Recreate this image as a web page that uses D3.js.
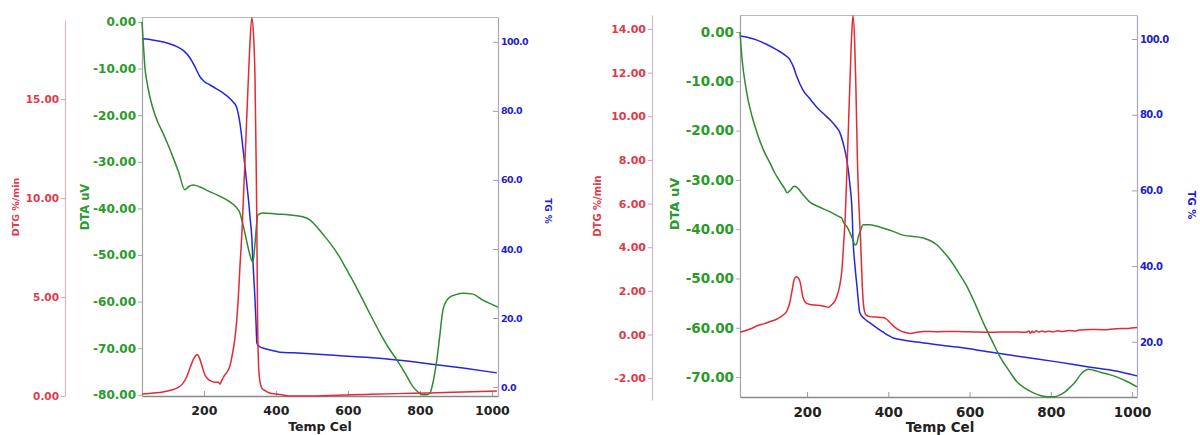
<!DOCTYPE html>
<html><head><meta charset="utf-8">
<script src="https://cdn.jsdelivr.net/npm/d3@7"></script>
<style>
body{margin:0;background:#fff;}
svg{display:block;}
text{font-family:"DejaVu Sans",sans-serif;}
</style>
</head><body>
<svg id="c" width="1200" height="435"></svg>
<script>
// ---------- tick labels ----------
const xTicks = [200, 400, 600, 800, 1000];
const leftDtaTicks = [0, -10, -20, -30, -40, -50, -60, -70, -80];
const leftTgTicks = [0, 20, 40, 60, 80, 100];
const leftDtgTicks = [0, 5, 10, 15];
const rightDtaTicks = [0, -10, -20, -30, -40, -50, -60, -70];
const rightTgTicks = [20, 40, 60, 80, 100];
const rightDtgTicks = [-2, 0, 2, 4, 6, 8, 10, 12, 14];

// ---------- left panel series ----------
const leftDtaT = [28, 32, 36, 42, 50, 60, 72, 86, 100, 114, 130, 147, 158, 170, 189, 210, 236, 255, 272, 288, 300, 307, 314, 321, 328, 333, 336, 339, 342, 345, 350, 364, 400, 439, 475, 495, 514, 530, 550, 575, 597, 620, 642, 665, 689, 712, 736, 760, 781, 795, 808, 818, 828, 836, 841, 847, 855, 864, 874, 884, 900, 920, 947, 975, 1003, 1017];
const leftDtaV = [0, -5, -9.7, -13, -16.1, -19, -21.5, -23.8, -26.3, -29, -32.3, -36, -35.3, -35, -35.4, -36.2, -37.1, -37.8, -38.6, -39.6, -41, -43, -45.3, -47.8, -50, -51.2, -51.5, -50, -47.5, -44.6, -41.4, -41, -41.2, -41.4, -41.8, -42.5, -44, -45.5, -47.4, -50.2, -53.2, -56.4, -59.7, -63.2, -66.7, -69.8, -72.5, -75.5, -78.3, -79.4, -80, -80, -79.6, -77.5, -75.5, -72.5, -67.5, -61.8, -59.8, -59, -58.5, -58.2, -58.4, -59.7, -60.7, -61.2];

const leftTgT = [28, 50, 70, 100, 125, 145, 161, 175, 189, 200, 217, 235, 253, 270, 281, 290, 295, 302, 309, 315, 320, 325, 328, 333, 336, 339, 342, 345, 347, 350, 356, 370, 390, 411, 450, 550, 650, 736, 828, 920, 1014];
const leftTgV = [100.9, 100.7, 100.3, 99.6, 98.6, 97.3, 95.4, 92.8, 89.9, 88.6, 87.5, 86.4, 85.2, 83.8, 82.6, 81.3, 79.4, 75, 68.7, 63, 58, 53, 49.3, 43.5, 36.8, 31, 25.2, 18, 12.8, 12.2, 11.6, 11.1, 10.6, 10.1, 9.9, 9.3, 8.6, 7.8, 6.7, 5.5, 4.1];

const leftDtgT = [28, 60, 86, 110, 125, 140, 153, 163, 172, 181, 188, 195, 202, 209, 220, 231, 240, 245, 250, 256, 264, 272, 280, 286, 291, 295, 300, 306, 312, 320, 327, 333, 338, 342, 345, 347, 349, 352, 356, 361, 372, 383, 400, 420, 439, 480, 550, 650, 736, 828, 920, 1014];
const leftDtgV = [0.1, 0.15, 0.2, 0.3, 0.4, 0.6, 1.0, 1.5, 1.9, 2.1, 1.9, 1.5, 1.1, 0.9, 0.75, 0.7, 0.7, 0.6, 0.8, 1.0, 1.2, 1.5, 2.2, 2.9, 3.8, 4.8, 6.5, 8.4, 11.0, 14.5, 17.5, 19.1, 18.2, 16.0, 12.0, 8.8, 4.0, 1.5, 0.7, 0.4, 0.25, 0.15, 0.1, 0.05, 0.0, 0.0, 0.03, 0.08, 0.12, 0.15, 0.2, 0.25];

// ---------- right panel series ----------
const rightDtaT = [35, 38, 42, 48, 55, 65, 77, 92, 109, 120, 134, 145, 151, 160, 168, 175, 190, 207, 230, 257, 275, 286, 289, 298, 306, 312, 318, 322, 326, 332, 338, 355, 380, 404, 436, 486, 505, 520, 535, 552, 572, 594, 614, 634, 655, 675, 697, 717, 737, 757, 776, 794, 808, 823, 835, 848, 860, 872, 882, 892, 905, 922, 945, 963, 990, 1012];
const rightDtaV = [0, -3.5, -7, -10.5, -13.8, -17.2, -20.5, -23.8, -26.6, -28.5, -30.4, -31.8, -32.6, -32, -31.3, -31.5, -33, -34.5, -35.5, -36.5, -37.3, -37.8, -38.5, -39.5, -40.8, -42, -43.2, -43, -41.6, -40.2, -39.1, -39.1, -39.6, -40.2, -41.2, -41.8, -42.4, -43.2, -44.5, -46.2, -48.7, -51.7, -55.2, -59, -62.6, -65.9, -68.7, -71, -72.3, -73.2, -73.8, -74, -74, -73.6, -73, -72, -71, -69.6, -68.8, -68.4, -68.6, -69, -69.5, -70, -71, -72];

const rightTgT = [35, 55, 77, 100, 126, 145, 158, 167, 175, 190, 207, 224, 240, 257, 270, 281, 290, 298, 306, 311, 313, 318, 323, 330, 340, 355, 370, 387, 400, 412, 436, 480, 569, 650, 732, 815, 897, 960, 1012];
const rightTgV = [100.8, 100.4, 99.7, 98.6, 97.1, 95.8, 94.5, 92.5, 90, 86.5, 84.2, 82, 80.3, 78.6, 77, 75.2, 72, 68, 61, 54, 47.5, 40, 34.5, 27.6, 26.2, 25, 23.8, 22.6, 21.7, 21, 20.5, 19.8, 18.6, 17.3, 16, 14.7, 13.3, 12.3, 11];

const rightDtgT = [35, 60, 77, 95, 109, 125, 134, 145, 151, 158, 163, 168, 173, 178, 183, 190, 197, 207, 220, 232, 245, 252, 260, 269, 276, 281, 286, 289, 294, 300, 306, 310, 313, 317, 320, 324, 328, 332, 336, 340, 345, 355, 370, 387, 396, 404, 415, 429, 440, 454, 470, 486, 520, 569, 610, 651, 700, 740, 746, 750, 754, 758, 764, 770, 778, 786, 795, 805, 816, 830, 845, 860, 870, 897, 930, 960, 990, 1012];
const rightDtgV = [0.1, 0.25, 0.4, 0.5, 0.6, 0.7, 0.8, 0.95, 1.1, 1.5, 2.0, 2.5, 2.65, 2.6, 2.4, 1.7, 1.45, 1.38, 1.35, 1.33, 1.28, 1.25, 1.35, 1.55, 1.9, 2.3, 3.0, 3.85, 5.4, 8.5, 11.8, 13.8, 14.6, 13.5, 11.5, 8.0, 5.8, 4.2, 2.2, 1.2, 0.9, 0.82, 0.8, 0.78, 0.7, 0.55, 0.35, 0.18, 0.1, 0.05, 0.1, 0.14, 0.13, 0.14, 0.12, 0.1, 0.12, 0.1, 0.16, 0.06, 0.15, 0.09, 0.17, 0.11, 0.16, 0.12, 0.15, 0.12, 0.17, 0.14, 0.18, 0.16, 0.21, 0.23, 0.22, 0.27, 0.28, 0.32];

// ---------- styling ----------
const RED = "#e42a32", GREEN = "#2f8a30", BLUE = "#2626de";
const RED_T = "#e03a4a", GREEN_T = "#2a9a2a", BLUE_T = "#2222c8";
const FRAME = "#a4a4a4";

const svg = d3.select("#c");

function zip(t, v) { return t.map((d, i) => [d, v[i]]); }
const fmt = (spec) => { const f = d3.format(spec); return d => f(d).replace("\u2212", "-"); };

function drawPanel(p) {
  const g = svg.append("g");
  const x = d3.scaleLinear().domain(p.xDomain).range([p.left, p.right]);
  const yDta = d3.scaleLinear().domain(p.dtaDomain).range([p.bottom, p.top]);
  const yTg = d3.scaleLinear().domain(p.tgDomain).range([p.bottom, p.top]);
  const yDtg = d3.scaleLinear().domain(p.dtgDomain).range(p.dtgRange);

  // top frame line
  g.append("line").attr("x1", p.left).attr("x2", p.right).attr("y1", p.top + 0.5).attr("y2", p.top + 0.5)
    .attr("stroke", "#b8b8b8").attr("stroke-width", 1.2);

  // x axis (ticks inside)
  const xa = g.append("g").attr("transform", `translate(0,${p.bottom})`)
    .call(d3.axisBottom(x).tickValues(xTicks).tickSize(-5).tickSizeOuter(0).tickPadding(p.xPad).tickFormat(d3.format("d")));
  xa.select(".domain").attr("stroke", "#888").attr("stroke-width", 1.3);
  xa.selectAll(".tick line").attr("stroke", "#999");
  xa.selectAll(".tick text").attr("fill", "#222").attr("font-weight", "bold").attr("font-size", p.xFont);

  // DTA (green) axis on plot left
  const ga = g.append("g").attr("transform", `translate(${p.left},0)`)
    .call(d3.axisLeft(yDta).tickValues(p.dtaTicks).tickSize(4).tickSizeOuter(0).tickPadding(2).tickFormat(fmt(".2f")));
  ga.select(".domain").attr("stroke", FRAME).attr("stroke-width", 1.2);
  ga.selectAll(".tick line").attr("stroke", "#9ab89a");
  ga.selectAll(".tick text").attr("fill", GREEN_T).attr("font-weight", "bold").attr("font-size", p.dtaFont);

  // TG (blue) axis on plot right
  const ba = g.append("g").attr("transform", `translate(${p.right},0)`)
    .call(d3.axisRight(yTg).tickValues(p.tgTicks).tickSize(-5).tickSizeOuter(0).tickPadding(3).tickFormat(fmt(".1f")));
  ba.select(".domain").attr("stroke", "#a8a8c0").attr("stroke-width", 1.2);
  ba.selectAll(".tick line").attr("stroke", "#9a9ad0");
  ba.selectAll(".tick text").attr("fill", BLUE_T).attr("font-weight", "bold").attr("font-size", p.tgFont)
    .attr("letter-spacing", "-0.6px");

  // DTG (red) axis, separate
  const ra = g.append("g").attr("transform", `translate(${p.redX},0)`)
    .call(d3.axisLeft(yDtg).tickValues(p.dtgTicks).tickSize(4).tickSizeOuter(0).tickPadding(2).tickFormat(fmt(".2f")));
  ra.select(".domain").attr("stroke", "#d0b8bc").attr("stroke-width", 1.2);
  ra.selectAll(".tick line").attr("stroke", "#e0a0a8");
  ra.selectAll(".tick text").attr("fill", RED_T).attr("font-weight", "bold").attr("font-size", p.dtgFont);

  // axis titles
  const vt = (tx, ty, txt, col, fs) => g.append("text")
    .attr("transform", `translate(${tx},${ty}) rotate(-90)`)
    .attr("text-anchor", "middle").attr("fill", col).attr("font-weight", "bold")
    .attr("font-size", fs).text(txt);
  vt(p.dtgTitle[0], p.dtgTitle[1], "DTG %/min", RED_T, p.dtgTitleFont);
  vt(p.dtaTitle[0], p.dtaTitle[1], "DTA uV", GREEN_T, p.dtaTitleFont);
  g.append("text").attr("transform", `translate(${p.tgTitle[0]},${p.tgTitle[1]}) rotate(90)`)
    .attr("text-anchor", "middle").attr("fill", BLUE_T).attr("font-weight", "bold")
    .attr("font-size", p.tgTitleFont).text("TG %");
  g.append("text").attr("x", p.xTitle[0]).attr("y", p.xTitle[1]).attr("text-anchor", "middle")
    .attr("fill", "#222").attr("font-weight", "bold").attr("font-size", p.xTitleFont).text("Temp Cel");

  // curves
  const mk = (ys) => d3.line().x(d => x(d[0])).y(d => ys(d[1])).curve(d3.curveMonotoneX);
  g.append("path").datum(zip(p.tgT, p.tgV)).attr("d", mk(yTg)).attr("fill", "none").attr("stroke", BLUE).attr("stroke-width", 1.5);
  g.append("path").datum(zip(p.dtaT, p.dtaV)).attr("d", mk(yDta)).attr("fill", "none").attr("stroke", GREEN).attr("stroke-width", 1.5);
  g.append("path").datum(zip(p.dtgT, p.dtgV)).attr("d", mk(yDtg)).attr("fill", "none").attr("stroke", RED).attr("stroke-width", 1.5);
}

drawPanel({
  left: 142, right: 498, top: 17, bottom: 396,
  xDomain: [28, 1017], dtaDomain: [-80.26, 1.07], tgDomain: [-2.6, 107.2],
  dtgDomain: [0, 19], dtgRange: [396, 20], redX: 65,
  dtaTicks: leftDtaTicks, tgTicks: leftTgTicks, dtgTicks: leftDtgTicks,
  xPad: 10, xFont: "12.5px", dtaFont: "12px", tgFont: "9.5px", dtgFont: "10.5px",
  dtgTitle: [19, 207], dtaTitle: [89, 207], tgTitle: [545, 211], xTitle: [320, 431],
  dtgTitleFont: "9.5px", dtaTitleFont: "11.5px", tgTitleFont: "9px", xTitleFont: "12.5px",
  dtaT: leftDtaT, dtaV: leftDtaV, tgT: leftTgT, tgV: leftTgV, dtgT: leftDtgT, dtgV: leftDtgV
});

drawPanel({
  left: 740, right: 1137, top: 15, bottom: 397,
  xDomain: [35, 1012], dtaDomain: [-74.04, 3.45], tgDomain: [5.42, 106.34],
  dtgDomain: [-3.0, 14.64], dtgRange: [400, 15], redX: 652,
  dtaTicks: rightDtaTicks, tgTicks: rightTgTicks, dtgTicks: rightDtgTicks,
  xPad: 10, xFont: "13.5px", dtaFont: "13.5px", tgFont: "10px", dtgFont: "11px",
  dtgTitle: [601, 206], dtaTitle: [679, 204], tgTitle: [1188, 205], xTitle: [940, 432],
  dtgTitleFont: "10px", dtaTitleFont: "13px", tgTitleFont: "10px", xTitleFont: "13.5px",
  dtaT: rightDtaT, dtaV: rightDtaV, tgT: rightTgT, tgV: rightTgV, dtgT: rightDtgT, dtgV: rightDtgV
});
</script>
</body></html>
